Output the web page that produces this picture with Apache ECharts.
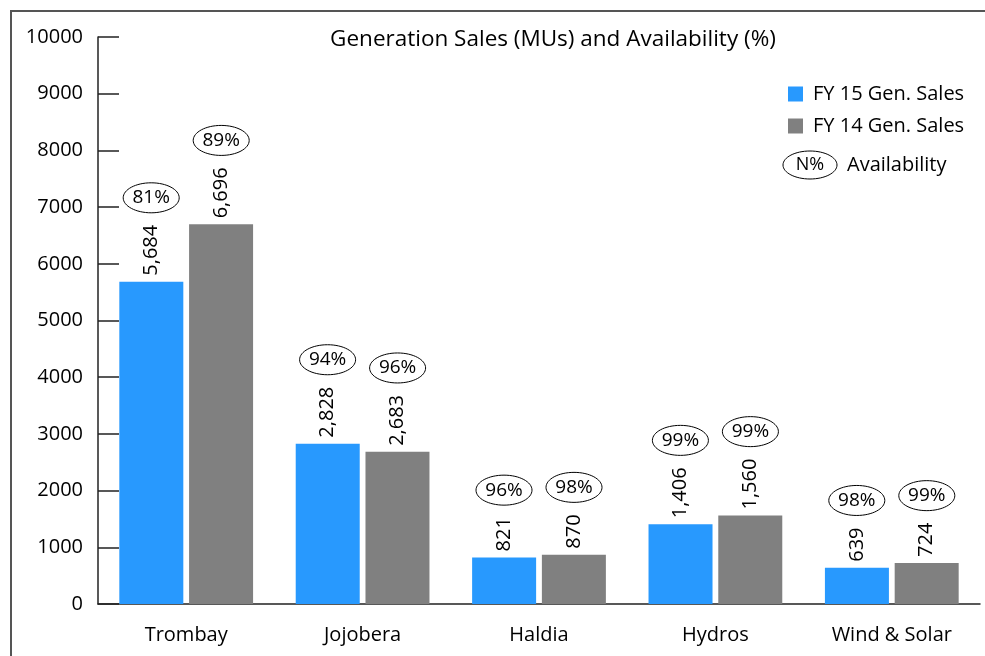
<!DOCTYPE html>
<html>
<head>
<meta charset="utf-8">
<script src="https://cdn.jsdelivr.net/npm/echarts@6/dist/echarts.min.js"></script>
<style>
  html, body { margin: 0; padding: 0; background: #fff; }
  #chart { width: 985px; height: 656px; }
</style>
</head>
<body>
<div id="chart"></div>
<script>
// categories and values
var plants = ['Trombay', 'Jojobera', 'Haldia', 'Hydros', 'Wind & Solar'];
var fy15Sales = [5684, 2828, 821, 1406, 639];
var fy14Sales = [6696, 2683, 870, 1560, 724];
var fy15Avail = [81, 94, 96, 99, 98];
var fy14Avail = [89, 96, 98, 99, 99];
var yTicks = [0, 1000, 2000, 3000, 4000, 5000, 6000, 7000, 8000, 9000, 10000];

var FONT = '"Open Sans", "Noto Sans", sans-serif';
var BLUE = '#2899fe';
var GRAY = '#808080';
var INK = '#000';
var valueFontSize = 20;

// measure label length so the availability ellipse sits above the rotated value text
var measureCtx = document.createElement('canvas').getContext('2d');
measureCtx.font = valueFontSize + 'px ' + FONT;
function textLen(s) { return measureCtx.measureText(s).width; }
function fmt(v) { return v.toLocaleString('en-US'); }

// [category index, value, availability, which bar]
var ellipseData = [];
plants.forEach(function (p, i) {
    ellipseData.push([i, fy15Sales[i], fy15Avail[i], 0]);
    ellipseData.push([i, fy14Sales[i], fy14Avail[i], 1]);
});

var chart = echarts.init(document.getElementById('chart'));

var valueLabel = {
    show: true,
    position: 'top',
    rotate: 90,
    align: 'left',
    verticalAlign: 'middle',
    distance: 6,
    fontFamily: FONT,
    fontSize: valueFontSize,
    color: INK,
    formatter: function (p) { return fmt(p.value); }
};

var option = {
    animation: false,
    backgroundColor: '#fff',
    textStyle: { fontFamily: FONT },
    title: {
        text: 'Generation Sales (MUs) and Availability (%)',
        left: 548,
        textAlign: 'center',
        top: 23,
        textStyle: { fontFamily: FONT, fontSize: 22.5, fontWeight: 'normal', color: INK }
    },
    legend: {
        orient: 'vertical',
        left: 783,
        top: 79,
        itemWidth: 15,
        itemHeight: 15,
        itemGap: 12,
        icon: 'rect',
        data: ['FY 15 Gen. Sales', 'FY 14 Gen. Sales'],
        textStyle: { fontFamily: FONT, fontSize: 20, color: INK, padding: [0, 0, 0, 5] }
    },
    grid: { left: 98, right: 5, top: 37, bottom: 52 },
    xAxis: {
        type: 'category',
        data: plants,
        axisLine: { lineStyle: { color: '#222', width: 1.5 } },
        axisTick: { inside: true, length: 14, lineStyle: { color: '#222', width: 1.5 } },
        axisLabel: { fontFamily: FONT, fontSize: 20, color: INK, margin: 21 }
    },
    yAxis: {
        type: 'value',
        min: yTicks[0],
        max: yTicks[yTicks.length - 1],
        interval: yTicks[1] - yTicks[0],
        splitLine: { show: false },
        axisLine: { show: true, lineStyle: { color: '#222', width: 1.5 } },
        axisTick: { show: true, inside: true, length: 21, lineStyle: { color: '#222', width: 1.5 } },
        axisLabel: { fontFamily: FONT, fontSize: 20, color: INK, margin: 15,
                     formatter: function (v) { return String(v); } }
    },
    graphic: [
        { type: 'rect', shape: { x: 11, y: 11, width: 1200, height: 800 },
          style: { fill: 'none', stroke: '#555', lineWidth: 2 }, silent: true },
        { type: 'ellipse', shape: { cx: 810, cy: 165, rx: 27, ry: 14 },
          style: { fill: '#fff', stroke: INK, lineWidth: 1 } },
        { type: 'text', style: { x: 810, y: 165, text: 'N%', align: 'center', verticalAlign: 'middle',
          font: '18px ' + FONT, fill: INK } },
        { type: 'text', style: { x: 847, y: 165, text: 'Availability', verticalAlign: 'middle',
          font: '20px ' + FONT, fill: INK } }
    ],
    series: [
        {
            name: 'FY 15 Gen. Sales',
            type: 'bar',
            data: fy15Sales,
            barWidth: 64,
            barGap: '9%',
            itemStyle: { color: BLUE },
            label: valueLabel
        },
        {
            name: 'FY 14 Gen. Sales',
            type: 'bar',
            data: fy14Sales,
            barWidth: 64,
            barGap: '9%',
            itemStyle: { color: GRAY },
            label: valueLabel
        },
        {
            name: 'Availability',
            type: 'custom',
            data: ellipseData,
            z: 5,
            renderItem: function (params, api) {
                var pt = api.coord([api.value(0), api.value(1)]);
                var x = pt[0] + (api.value(3) === 0 ? -35 : 35);
                var len = textLen(fmt(api.value(1)));
                var cy = pt[1] - 6 - len - 12 - 15;
                return {
                    type: 'group',
                    children: [
                        { type: 'ellipse', shape: { cx: x, cy: cy, rx: 28, ry: 15 },
                          style: { fill: '#fff', stroke: INK, lineWidth: 1 } },
                        { type: 'text', style: { x: x, y: cy, text: api.value(2) + '%',
                          align: 'center', verticalAlign: 'middle', font: '19px ' + FONT, fill: INK } }
                    ]
                };
            }
        }
    ]
};

chart.setOption(option);
</script>
</body>
</html>
